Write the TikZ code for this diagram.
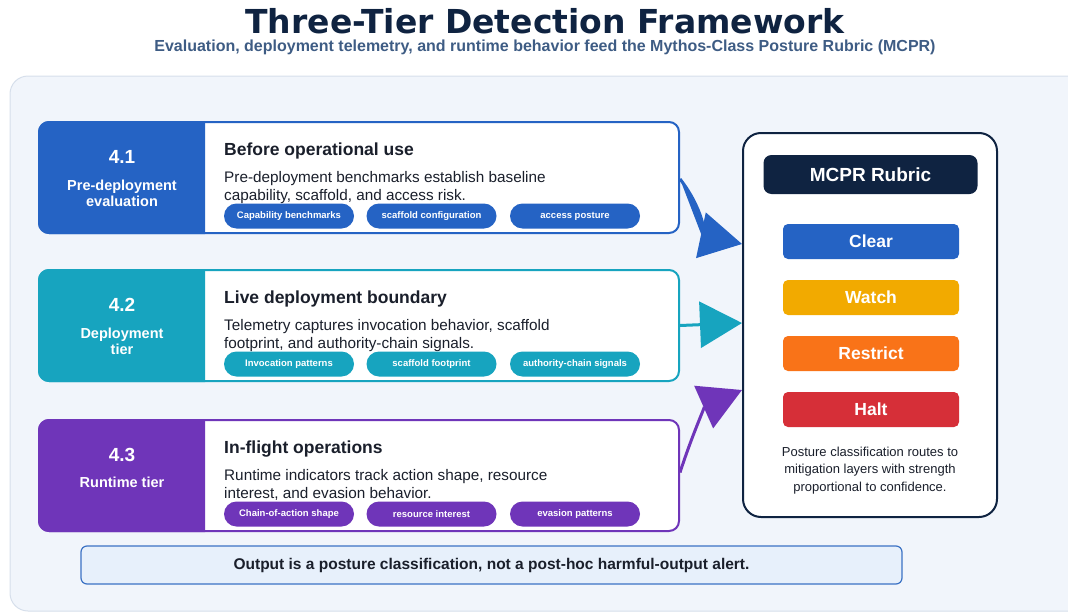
\documentclass[tikz,border=0pt]{standalone}
\usepackage{fontspec}
\setmainfont{Liberation Sans}
\newfontfamily\titlefont{DejaVu Sans}
\usetikzlibrary{arrows.meta,calc}

\definecolor{navy}{HTML}{0F2341}
\definecolor{subtitle}{HTML}{3E5C84}
\definecolor{panelbg}{HTML}{F1F5FB}
\definecolor{panelline}{HTML}{D6DFEB}
\definecolor{tierA}{HTML}{2563C4}
\definecolor{tierB}{HTML}{17A4BF}
\definecolor{tierC}{HTML}{6F35B9}
\definecolor{watch}{HTML}{F2AA00}
\definecolor{restrict}{HTML}{F97318}
\definecolor{halt}{HTML}{D62F38}
\definecolor{notebg}{HTML}{E7F0FB}
\definecolor{noteline}{HTML}{3B72C4}
\definecolor{ink}{HTML}{1A1F2B}

\newcommand{\fsz}[1]{\fontsize{#1}{#1}\selectfont}

% label side of a tier card (#1 top, #2 bottom, #3 colour): rounded on the
% outer corners, square along the divider at x = 205
\newcommand{\tierside}[3]{%
  \fill[#3] (205,#1-1) -- (49,#1-1) .. controls (42.9,#1-1) and (38,#1+3.9) .. (38,#1+10)
    -- (38,#2-10) .. controls (38,#2-3.9) and (42.9,#2+1) .. (49,#2+1) -- (205,#2+1) -- cycle;
}

\tikzset{
  tierbox/.style={draw=#1, line width=2pt, fill=white, rounded corners=10pt,
    minimum width=640pt, minimum height=111pt, inner sep=0pt},
  numlabel/.style={text=white, font=\bfseries\fsz{19}},
  tierlabel/.style={text=white, font=\bfseries\fontsize{14.5}{16}\selectfont, align=center},
  heading/.style={text=ink, font=\bfseries\fsz{17.5}, anchor=base west, inner sep=0pt},
  body/.style={text=ink, font=\fsz{15.3}, anchor=base west, inner sep=0pt},
  chip/.style={fill=#1, rounded corners=12.5pt, minimum width=130pt, minimum height=25pt,
    inner sep=0pt, text=white, font=\bfseries\fsz{9.5}},
  rubricbox/.style={draw=navy, line width=2pt, fill=white, rounded corners=18pt,
    minimum width=254pt, minimum height=384pt, inner sep=0pt},
  rubrichead/.style={fill=navy, rounded corners=8pt, minimum width=214pt, minimum height=39pt,
    inner sep=0pt, text=white, font=\bfseries\fsz{19}},
  level/.style={fill=#1, rounded corners=5pt, minimum width=176pt, minimum height=35pt,
    inner sep=0pt, text=white, font=\bfseries\fsz{17.5}},
  feed/.style={draw=#1, fill=#1, line width=3pt, -{Triangle[length=42pt,width=46pt]}},
}

\begin{document}
\begin{tikzpicture}[x=1pt,y=-1pt]
\useasboundingbox (0,0) rectangle (1068,613);

% title block
\node[text=navy, font=\titlefont\bfseries\fsz{33}, inner sep=0pt] (title) at (545,21.5)
  {Three-Tier Detection Framework};
\node[text=subtitle, font=\bfseries\fsz{16}, inner sep=0pt] (subtitle) at (545,47)
  {Evaluation, deployment telemetry, and runtime behavior feed the Mythos-Class Posture Rubric (MCPR)};

% background panel
\draw[panelline, fill=panelbg, line width=1pt, rounded corners=18pt] (10,76) rectangle (1090,611);

% ---- tier 4.1 ----
\node[tierbox=tierA] (t1) at (359,177.5) {};
\tierside{122}{233}{tierA}
\node[numlabel] (t1num) at (122,157) {4.1};
\node[tierlabel] (t1lab) at (122,193) {Pre-deployment\\evaluation};
\node[heading] (t1head) at (224,155.5) {Before operational use};
\node[body] (t1b1) at (224,182.5) {Pre-deployment benchmarks establish baseline};
\node[body] (t1b2) at (224,200) {capability, scaffold, and access risk.};
\node[chip=tierA] (t1c1) at (289,216) {Capability benchmarks};
\node[chip=tierA] (t1c2) at (431.5,216) {scaffold configuration};
\node[chip=tierA] (t1c3) at (575,216) {access posture};

% ---- tier 4.2 ----
\node[tierbox=tierB] (t2) at (359,325.5) {};
\tierside{270}{381}{tierB}
\node[numlabel] (t2num) at (122,305) {4.2};
\node[tierlabel] (t2lab) at (122,341) {Deployment\\tier};
\node[heading] (t2head) at (224,303.5) {Live deployment boundary};
\node[body] (t2b1) at (224,330.5) {Telemetry captures invocation behavior, scaffold};
\node[body] (t2b2) at (224,348) {footprint, and authority-chain signals.};
\node[chip=tierB] (t2c1) at (289,364) {Invocation patterns};
\node[chip=tierB] (t2c2) at (431.5,364) {scaffold footprint};
\node[chip=tierB] (t2c3) at (575,364) {authority-chain signals};

% ---- tier 4.3 ----
\node[tierbox=tierC] (t3) at (359,475.5) {};
\tierside{420}{531}{tierC}
\node[numlabel] (t3num) at (122,455) {4.3};
\node[tierlabel] (t3lab) at (122,482) {Runtime tier};
\node[heading] (t3head) at (224,453.5) {In-flight operations};
\node[body] (t3b1) at (224,480.5) {Runtime indicators track action shape, resource};
\node[body] (t3b2) at (224,498) {interest, and evasion behavior.};
\node[chip=tierC] (t3c1) at (289,514) {Chain-of-action shape};
\node[chip=tierC] (t3c2) at (431.5,514) {resource interest};
\node[chip=tierC] (t3c3) at (575,514) {evasion patterns};

% ---- rubric panel ----
\node[rubricbox] (mcpr) at (870,325) {};
\node[rubrichead] (mcprhead) at (870.5,174.5) {MCPR Rubric};
\node[level=tierA] (clear) at (871,241.5) {Clear};
\node[level=watch] (watch) at (871,297.5) {Watch};
\node[level=restrict] (restrict) at (871,353.5) {Restrict};
\node[level=halt] (halt) at (871,409.5) {Halt};
\node[text=ink, font=\fontsize{13}{17.5}\selectfont, align=center] (caption) at (870,470.5)
  {Posture classification routes to\\mitigation layers with strength\\proportional to confidence.};

% feeds into the rubric
\coordinate (in1) at ($(mcpr.west)+(0,-81)$);
\coordinate (in2) at ($(mcpr.west)+(0,-2)$);
\coordinate (in3) at ($(mcpr.west)+(0,65)$);
\draw[feed=tierA] ($(t1.east)+(0,1.5)$) to[out=-52,in=168] (in1);
\draw[feed=tierB] (t2.east) -- (in2);
\draw[feed=tierC] ($(t3.east)+(0,-3)$) to[out=72,in=204] (in3);

% closing note
\node[draw=noteline, fill=notebg, line width=1.2pt, rounded corners=6pt,
  minimum width=821pt, minimum height=38pt, inner sep=0pt,
  text=ink, font=\bfseries\fsz{15.5}] (note) at (491.5,565)
  {Output is a posture classification, not a post-hoc harmful-output alert.};
\end{tikzpicture}
\end{document}
